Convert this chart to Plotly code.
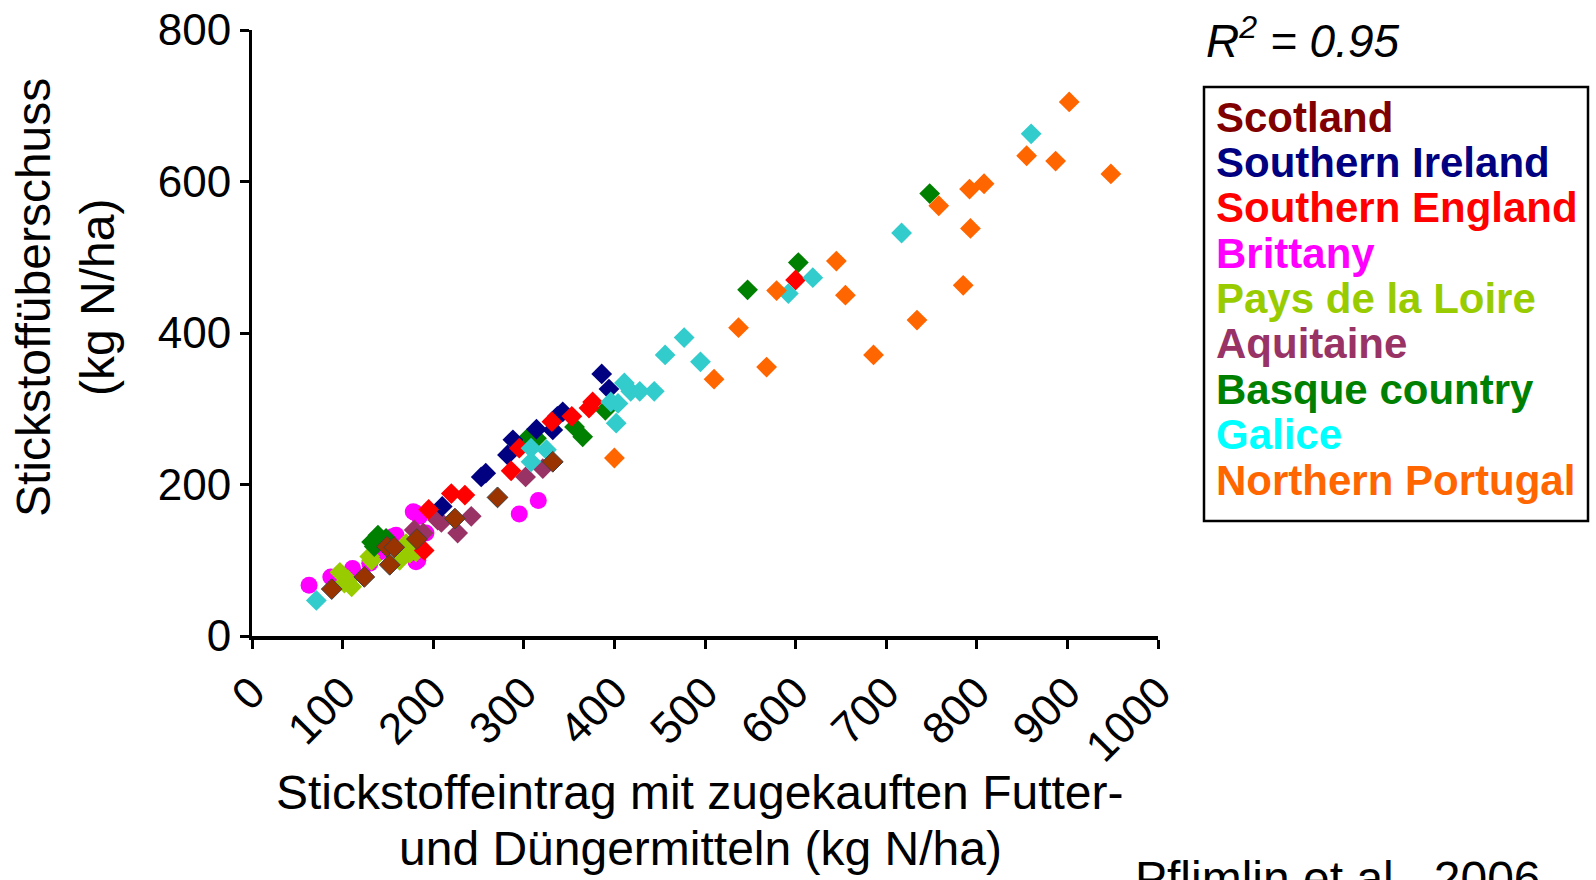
import plotly.graph_objects as go

# ---------------- data ----------------
categories = ["Scotland", "Southern Ireland", "Southern England", "Brittany",
              "Pays de la Loire", "Aquitaine", "Basque country", "Galice",
              "Northern Portugal"]

scotland_x = [88, 124, 149, 157, 152, 182, 224, 271, 332]
scotland_y = [62, 78, 118, 117, 94, 128, 155, 183, 230]

s_ireland_x = [210, 253, 258, 282, 288, 314, 332, 337, 343, 386, 394]
s_ireland_y = [171, 210, 215, 239, 259, 273, 272, 290, 296, 346, 326]

s_england_x = [190, 195, 220, 235, 286, 295, 331, 353, 372, 376, 600]
s_england_y = [113, 167, 188, 186, 218, 248, 283, 290, 301, 309, 470]

brittany_x = [63, 87, 111, 130, 141, 155, 159, 178, 181, 185, 181, 183, 192, 295, 316]
brittany_y = [67, 78, 89, 96, 111, 131, 133, 164, 162, 158, 98, 100, 136, 161, 179]

loire_x = [97, 102, 106, 110, 130, 132, 163, 166, 170, 174, 181]
loire_y = [84, 70, 74, 65, 105, 100, 100, 114, 122, 109, 111]

aquitaine_x = [179, 189, 205, 209, 227, 242, 302, 321]
aquitaine_y = [140, 136, 153, 150, 136, 158, 210, 221]

basque_x = [132, 135, 139, 148, 304, 314, 356, 365, 390, 547, 603, 748]
basque_y = [124, 118, 133, 129, 261, 261, 276, 263, 298, 457, 493, 584]

galice_x = [71, 308, 325, 308, 396, 404, 402, 411, 418, 428, 444, 456, 477, 495, 592, 619, 717, 860]
galice_y = [47, 248, 246, 230, 309, 307, 281, 334, 323, 323, 323, 371, 394, 362, 452, 473, 532, 663]

portugal_x = [400, 510, 537, 568, 579, 645, 655, 686, 734, 758, 785, 792, 793, 808, 855, 887, 902, 948]
portugal_y = [235, 339, 407, 355, 456, 495, 450, 371, 417, 568, 463, 590, 538, 597, 634, 627, 705, 610]

x_ticks = [0, 100, 200, 300, 400, 500, 600, 700, 800, 900, 1000]
y_ticks = [0, 200, 400, 600, 800]

r2_text = "R<sup>2</sup> = 0.95"
source_text = "Pflimlin et al., 2006"
y_title = ["Stickstoffüberschuss", "(kg N/ha)"]
x_title = ["Stickstoffeintrag mit zugekauften Futter-", "und Düngermitteln (kg N/ha)"]

# ---------------- styles ----------------
marker_colors = {
    "Scotland": "#993300", "Southern Ireland": "#000080", "Southern England": "#FF0000",
    "Brittany": "#FF00FF", "Pays de la Loire": "#99CC00", "Aquitaine": "#993366",
    "Basque country": "#008000", "Galice": "#33CCCC", "Northern Portugal": "#FF6600",
}
label_colors = dict(marker_colors)
label_colors["Scotland"] = "#800000"
label_colors["Galice"] = "#00FFFF"

series = {
    "Scotland": (scotland_x, scotland_y),
    "Southern Ireland": (s_ireland_x, s_ireland_y),
    "Southern England": (s_england_x, s_england_y),
    "Brittany": (brittany_x, brittany_y),
    "Pays de la Loire": (loire_x, loire_y),
    "Aquitaine": (aquitaine_x, aquitaine_y),
    "Basque country": (basque_x, basque_y),
    "Galice": (galice_x, galice_y),
    "Northern Portugal": (portugal_x, portugal_y),
}
draw_order = ["Brittany", "Pays de la Loire", "Aquitaine", "Basque country",
              "Southern Ireland", "Southern England", "Galice", "Northern Portugal",
              "Scotland"]

FONT = "Liberation Sans, Arial, sans-serif"

fig = go.Figure()
for name in draw_order:
    xs, ys = series[name]
    if name == "Brittany":
        marker = dict(symbol="circle", size=17, color=marker_colors[name], line=dict(width=0))
    elif name == "Scotland":
        marker = dict(symbol="diamond", size=16, color=marker_colors[name],
                      line=dict(width=1, color="#404040"))
    else:
        marker = dict(symbol="diamond", size=16, color=marker_colors[name], line=dict(width=0))
    fig.add_trace(go.Scatter(x=xs, y=ys, mode="markers", name=name, marker=marker,
                             showlegend=False, cliponaxis=False))

# plot area in pixels
L, R, T, B = 252, 1158, 30, 636
W, H = 1596, 880


def px(xp):
    return (xp - L) / (R - L)


def py(yp):
    return (B - yp) / (B - T)


annotations = []
# y title (two rotated lines)
annotations.append(dict(text=y_title[0], x=px(33), y=py(298), xref="paper", yref="paper",
                        textangle=-90, showarrow=False, xanchor="center", yanchor="middle",
                        font=dict(family=FONT, size=48, color="black")))
annotations.append(dict(text=y_title[1], x=px(97), y=py(298), xref="paper", yref="paper",
                        textangle=-90, showarrow=False, xanchor="center", yanchor="middle",
                        font=dict(family=FONT, size=48, color="black")))
# x title (two lines)
annotations.append(dict(text=x_title[0], x=px(700), y=py(792), xref="paper", yref="paper",
                        showarrow=False, xanchor="center", yanchor="middle",
                        font=dict(family=FONT, size=48, color="black")))
annotations.append(dict(text=x_title[1], x=px(700), y=py(848), xref="paper", yref="paper",
                        showarrow=False, xanchor="center", yanchor="middle",
                        font=dict(family=FONT, size=48, color="black")))
# R^2
annotations.append(dict(text="<i>" + r2_text + "</i>", x=px(1204), y=py(38), xref="paper",
                        yref="paper", showarrow=False, xanchor="left", yanchor="middle",
                        font=dict(family=FONT, size=46, color="black")))
# legend entries
for i, name in enumerate(categories):
    annotations.append(dict(text="<b>" + name + "</b>", x=px(1214), y=py(117 + i * 45.4),
                            xref="paper", yref="paper", showarrow=False,
                            xanchor="left", yanchor="middle",
                            font=dict(family=FONT, size=42, color=label_colors[name])))
# source
annotations.append(dict(text=source_text, x=px(1133), y=py(850), xref="paper", yref="paper",
                        showarrow=False, xanchor="left", yanchor="top",
                        font=dict(family=FONT, size=48, color="black")))

shapes = [dict(type="rect", xref="paper", yref="paper",
               x0=px(1204), x1=px(1588), y0=py(521), y1=py(87),
               line=dict(color="black", width=2.5), fillcolor="rgba(0,0,0,0)")]

fig.update_layout(
    width=W, height=H,
    margin=dict(l=L, r=W - R, t=T, b=H - B, pad=0, autoexpand=False),
    paper_bgcolor="white", plot_bgcolor="white",
    font=dict(family=FONT, color="black"),
    annotations=annotations, shapes=shapes,
    showlegend=False,
)
fig.update_xaxes(range=[0, 1000], tickvals=x_ticks, ticktext=[str(v) for v in x_ticks],
                 tickangle=-45, ticks="outside", ticklen=9, tickwidth=2.5, tickcolor="black",
                 showline=True, linewidth=3.5, linecolor="black", showgrid=False,
                 zeroline=False, automargin=False,
                 tickfont=dict(family=FONT, size=44, color="black"))
fig.update_yaxes(range=[0, 800], tickvals=y_ticks, ticktext=[str(v) for v in y_ticks],
                 ticks="outside", ticklen=9, tickwidth=2.5, tickcolor="black",
                 showline=True, linewidth=3, linecolor="black", showgrid=False,
                 zeroline=False, automargin=False,
                 tickfont=dict(family=FONT, size=44, color="black"))

fig.write_html("out.html", config={"displayModeBar": False})
